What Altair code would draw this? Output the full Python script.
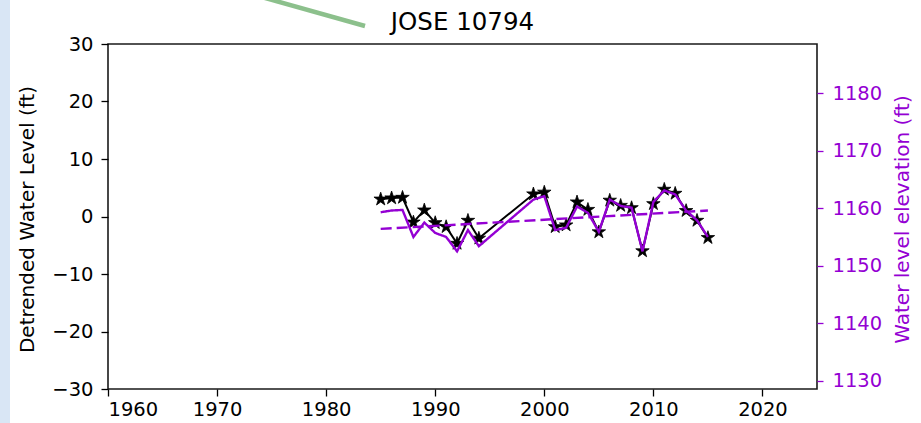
import altair as alt
import pandas as pd

# ---- data ----
years = [1985, 1986, 1987, 1988, 1989, 1990, 1991, 1992, 1993, 1994,
         1999, 2000, 2001, 2002, 2003, 2004, 2005, 2006, 2007, 2008,
         2009, 2010, 2011, 2012, 2013, 2014, 2015]
detrended = [3.0, 3.2, 3.3, -1.0, 1.1, -1.1, -1.8, -4.7, -0.7, -3.8,
             3.9, 4.2, -1.8, -1.5, 2.5, 1.2, -2.7, 2.8, 1.9, 1.5,
             -6.0, 2.2, 4.7, 4.0, 1.0, -0.7, -3.7]
elevation = [1159.3, 1159.6, 1159.7, 1155.0, 1157.5, 1155.7, 1155.0, 1152.5, 1156.2, 1153.4,
             1161.5, 1162.1, 1156.2, 1156.6, 1160.3, 1159.2, 1155.9, 1161.5, 1160.4, 1160.1,
             1152.5, 1161.1, 1163.1, 1162.4, 1159.6, 1157.9, 1155.0]
trend_years = [1985, 2015]
trend_vals = [1156.4, 1159.6]
title_text = "JOSE 10794"

x_ticks = [1960, 1970, 1980, 1990, 2000, 2010, 2020]
left_ticks = [-30, -20, -10, 0, 10, 20, 30]
right_ticks = [1130, 1140, 1150, 1160, 1170, 1180]

df = pd.DataFrame({"year": years, "detrended": detrended})
pdf = pd.concat([
    pd.DataFrame({"year": years, "elevation": elevation, "kind": "observed"}),
    pd.DataFrame({"year": trend_years, "elevation": trend_vals, "kind": "trend"}),
], ignore_index=True)

PURPLE = "#9400D3"
FONT = "DejaVu Sans"
STAR = ("M0,-1L0.225,-0.309L0.951,-0.309L0.363,0.118L0.588,0.809L0,0.382"
        "L-0.588,0.809L-0.363,0.118L-0.951,-0.309L-0.225,-0.309Z")

xenc = alt.X("year:Q", scale=alt.Scale(domain=[1960, 2025], nice=False, zero=False),
             axis=alt.Axis(orient="bottom", values=x_ticks, format="d", title=None, grid=False,
                           domain=False, tickSize=7, tickColor="black", labelPadding=4,
                           labelColor="black"))

yleft = alt.Y("detrended:Q", scale=alt.Scale(domain=[-30, 30], nice=False),
              axis=alt.Axis(orient="left", values=left_ticks, title="Detrended Water Level (ft)",
                            grid=False, domain=False, tickSize=7, tickColor="black", labelPadding=8,
                            labelColor="black", titleColor="black",
                            titleAngle=270, titleX=-81, titleY=175,
                            titleAlign="center", titleBaseline="middle"))

yright = alt.Y("elevation:Q", scale=alt.Scale(domain=[1128.56, 1188.56], nice=False, zero=False),
               axis=alt.Axis(orient="right", values=right_ticks, format="d",
                             title="Water level elevation (ft)",
                             grid=False, domain=False, tickSize=6, tickColor=PURPLE,
                             labelPadding=9, labelColor=PURPLE, titleColor=PURPLE,
                             titleAngle=270, titleX=85, titleY=175,
                             titleAlign="center", titleBaseline="middle"))

black_line = alt.Chart(df).mark_line(color="black", strokeWidth=2).encode(x=xenc, y=yleft)
stars = alt.Chart(df).mark_point(shape=STAR, filled=True, color="black", size=200, opacity=1,
                                 stroke="black", strokeWidth=0.8).encode(x=xenc, y=yleft)

dummy = alt.Chart(pd.DataFrame({"label": [title_text]}))
stripe = dummy.mark_rect(color="#d9e6f5").encode(
    x=alt.value(-108), x2=alt.value(-98), y=alt.value(-44), y2=alt.value(379))
green = dummy.mark_rule(color="#8cc08c", strokeWidth=4.5).encode(
    x=alt.value(150), x2=alt.value(257), y=alt.value(-48), y2=alt.value(-18))
title = dummy.mark_text(font=FONT, fontSize=24.5, color="black", align="center",
                        baseline="alphabetic").encode(
    text="label:N", x=alt.value(354.5), y=alt.value(-14))

left = alt.layer(stripe, green, title, black_line, stars)

purple = alt.Chart(pdf).mark_line(color=PURPLE, strokeWidth=2.4).encode(
    x=xenc, y=yright,
    detail="kind:N",
    strokeDash=alt.StrokeDash("kind:N", scale=alt.Scale(domain=["observed", "trend"],
                                                      range=[[1, 0], [11, 5]]), legend=None),
)

chart = alt.layer(left, purple).resolve_scale(y="independent").properties(
    width=709, height=345,
    autosize=alt.AutoSizeParams(type="none"),
    padding={"left": 108, "top": 44, "right": 104, "bottom": 34},
    background="white",
).configure_view(stroke="#1a1a1a", strokeWidth=1.6).configure_axis(
    labelFont=FONT, titleFont=FONT, labelFontSize=19.5, titleFontSize=20,
    titleFontWeight="normal", tickWidth=1.3,
)

chart.save("out.html", embed_options={"renderer": "svg", "actions": False})
